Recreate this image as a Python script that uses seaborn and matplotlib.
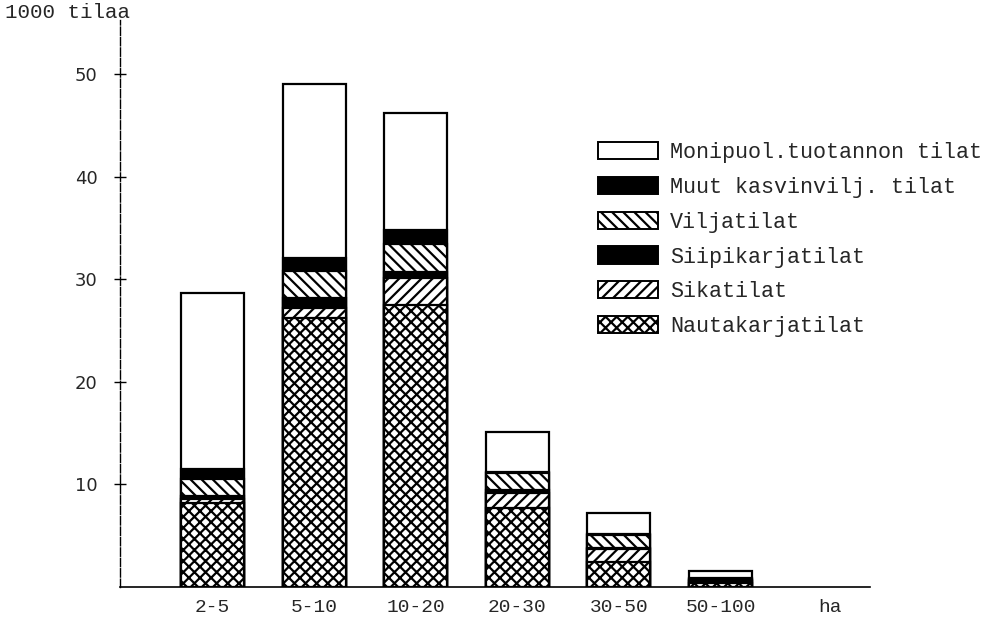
import numpy as np
import pandas as pd
import matplotlib
matplotlib.use("Agg")
import matplotlib.pyplot as plt
from matplotlib.patches import Patch
import seaborn as sns

# farm counts (1000 farms) by size class
categories = ['2-5', '5-10', '10-20', '20-30', '30-50', '50-100']
nauta = [8.2, 26.2, 27.5, 7.7, 2.4, 0.4]      # Nautakarjatilat
sika = [0.35, 1.0, 2.6, 1.5, 1.3, 0.2]        # Sikatilat
siipi = [0.35, 1.0, 0.6, 0.3, 0.1, 0.05]      # Siipikarjatilat
vilja = [1.6, 2.6, 2.8, 1.6, 1.3, 0.15]       # Viljatilat
muut = [1.0, 1.3, 1.3, 0.1, 0.1, 0.05]        # Muut kasvinvilj. tilat
monipuol = [17.2, 17.0, 11.4, 3.9, 2.0, 0.75] # Monipuol.tuotannon tilat

labels = ['Nautakarjatilat', 'Sikatilat', 'Siipikarjatilat', 'Viljatilat',
          'Muut kasvinvilj. tilat', 'Monipuol.tuotannon tilat']
series = [nauta, sika, siipi, vilja, muut, monipuol]
styles = [('white', 'xxx'), ('white', '///'), ('black', ''), ('white', '\\\\\\'),
          ('black', ''), ('white', '')]

sns.set_theme(style="white")
plt.rcParams['hatch.linewidth'] = 1.6
plt.rcParams['font.family'] = ['Liberation Mono', 'DejaVu Sans']

fig = plt.figure(figsize=(9.92, 6.29), dpi=100)
ax = fig.add_axes([120/992, 1 - 587/629, 750/992, 567/629])

# stacked bars by overlaying cumulative totals, tallest first
cum = np.cumsum(np.array(series), axis=0)
for i in range(len(series) - 1, -1, -1):
    df = pd.DataFrame({'koko': categories, 'arvo': cum[i]})
    color, hatch = styles[i]
    sns.barplot(data=df, x='koko', y='arvo', order=categories, color=color,
                edgecolor='black', linewidth=1.6, hatch=hatch, width=0.62,
                saturation=1, ax=ax)

ax.set_xlim(-0.91, 6.47)
ax.set_ylim(0, 55.3)
ax.set_xlabel('')
ax.set_ylabel('')
ax.set_xticks([0, 1, 2, 3, 4, 5, 6.08])
ax.set_xticklabels(categories + ['ha'], fontsize=14)
ax.tick_params(axis='x', length=0, pad=9)
ax.set_yticks([10, 20, 30, 40, 50])
ax.set_yticklabels(['10', '20', '30', '40', '50'], family='DejaVu Sans', fontsize=13)
ax.tick_params(axis='y', direction='inout', length=8, width=1, color='black', pad=12,
               left=True)
sns.despine(ax=ax)
ax.spines['left'].set_color('black')
ax.spines['left'].set_linestyle((0, (6, 1.5)))
ax.spines['bottom'].set_color('black')
ax.spines['left'].set_linewidth(1)
ax.spines['bottom'].set_linewidth(1.2)

fig.text(5/992, 1 - 13/629, '1000 tilaa', fontsize=15, va='center', ha='left')

handles = [Patch(facecolor=styles[i][0], edgecolor='black', hatch=styles[i][1],
                 linewidth=1.4, label=labels[i]) for i in range(len(series) - 1, -1, -1)]
fig.legend(handles=handles, loc='upper left', bbox_to_anchor=(598/992, 1 - 142/629),
           frameon=False, fontsize=15.7, handlelength=2.75, handleheight=0.85,
           handletextpad=0.55, labelspacing=0.62, borderpad=0, borderaxespad=0)

fig.savefig('out.png', dpi=100)
